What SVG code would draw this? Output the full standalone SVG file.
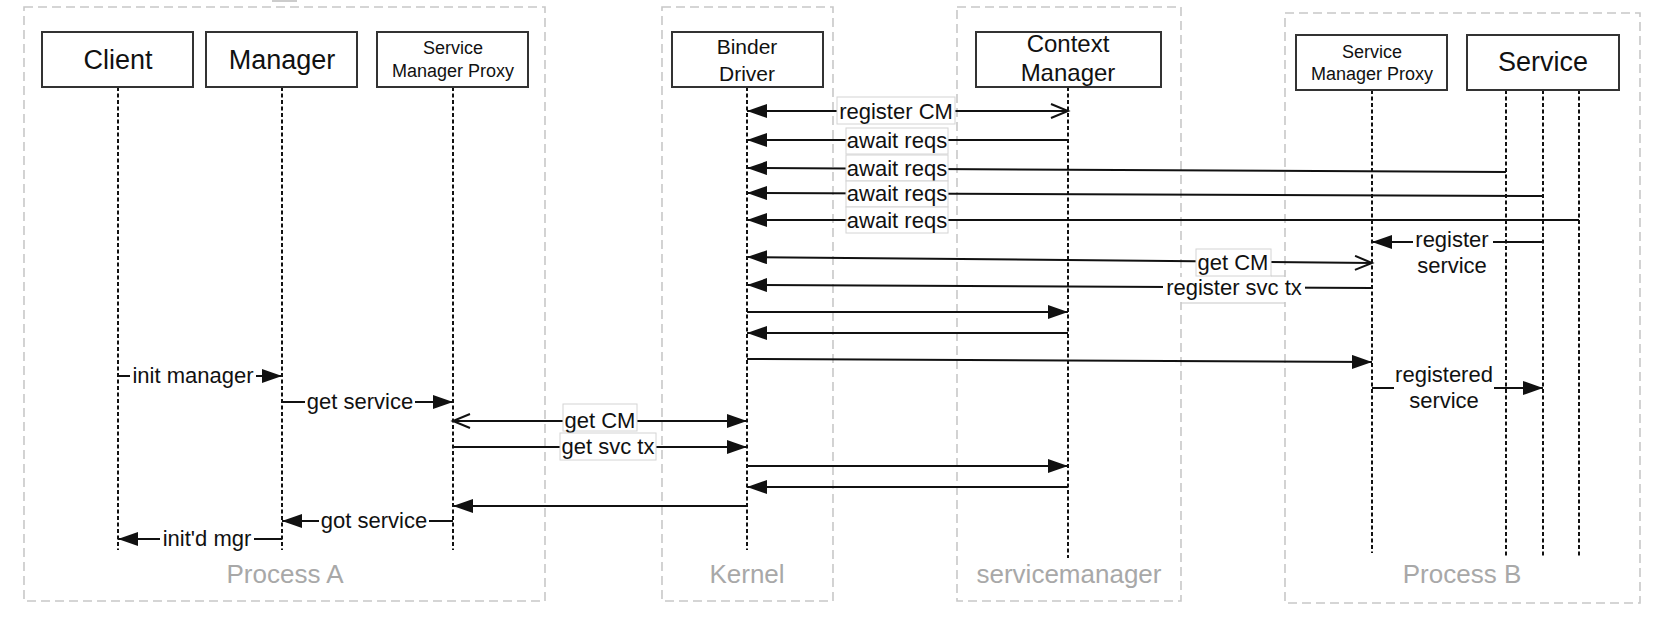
<svg xmlns="http://www.w3.org/2000/svg" width="1670" height="636" viewBox="0 0 1670 636">
<style>
.bg{fill:#ffffff}
.cont{fill:none;stroke:#c8c8c8;stroke-width:1.6;stroke-dasharray:9 5}
.clabel{font-family:"Liberation Sans",Arial,sans-serif;font-size:26px;fill:#a8a8a8;text-anchor:middle}
.box{fill:#ffffff;stroke:#333333;stroke-width:2}
.t{font-family:"Liberation Sans",Arial,sans-serif;fill:#111111;text-anchor:middle}
.life{stroke:#111111;stroke-width:2;stroke-dasharray:4 2.5;fill:none}
.msg{stroke:#111111;stroke-width:2;fill:none}
.f{marker-end:url(#filled)}
.lb{fill:#ffffff;stroke:#d4d4d4;stroke-width:1}
.lbn{fill:#ffffff}
.lt{font-family:"Liberation Sans",Arial,sans-serif;font-size:22px;fill:#111111;text-anchor:middle}
</style>
<defs>
<marker id="filled" markerUnits="userSpaceOnUse" markerWidth="22" markerHeight="16" refX="20" refY="7" orient="auto-start-reverse">
<path d="M0,0 L20,7 L0,14 z" fill="#111111"/>
</marker>
<marker id="open" markerUnits="userSpaceOnUse" markerWidth="22" markerHeight="18" refX="18" refY="8" orient="auto-start-reverse">
<path d="M1,1 L18,8 L1,15" fill="none" stroke="#111111" stroke-width="2"/>
</marker>
</defs>
<rect class="bg" x="0" y="0" width="1670" height="636"/>
<rect x="272" y="0" width="25" height="2" fill="#cccccc"/>

<g id="containers">
<g id="process-a"><rect class="cont" x="24" y="7" width="521" height="594"/><text class="clabel" x="285" y="583">Process A</text></g>
<g id="kernel"><rect class="cont" x="662" y="7" width="171" height="594"/><text class="clabel" x="747" y="583">Kernel</text></g>
<g id="servicemanager"><rect class="cont" x="957" y="7" width="224" height="594"/><text class="clabel" x="1069" y="583">servicemanager</text></g>
<g id="process-b"><rect class="cont" x="1285" y="13" width="355" height="590"/><text class="clabel" x="1462" y="583">Process B</text></g>
</g>

<g id="client"><line class="life" x1="118" y1="87" x2="118" y2="550"/><rect class="box" x="42" y="32" width="151" height="55"/><text class="t" x="118" y="69" font-size="27">Client</text></g>
<g id="manager"><line class="life" x1="282" y1="87" x2="282" y2="550"/><rect class="box" x="206" y="32" width="151" height="55"/><text class="t" x="282" y="69" font-size="27">Manager</text></g>
<g id="smp-a"><line class="life" x1="453" y1="87" x2="453" y2="550"/><rect class="box" x="377" y="32" width="151" height="55"/><text class="t" x="453" y="54" font-size="18">Service</text><text class="t" x="453" y="77" font-size="18">Manager Proxy</text></g>
<g id="binder-driver"><line class="life" x1="747" y1="87" x2="747" y2="550"/><rect class="box" x="672" y="32" width="151" height="55"/><text class="t" x="747" y="54" font-size="21">Binder</text><text class="t" x="747" y="81" font-size="21">Driver</text></g>
<g id="context-manager"><line class="life" x1="1068" y1="87" x2="1068" y2="558"/><rect class="box" x="976" y="32" width="185" height="55"/><text class="t" x="1068" y="52" font-size="24">Context</text><text class="t" x="1068" y="81" font-size="24">Manager</text></g>
<g id="smp-b"><line class="life" x1="1372" y1="90" x2="1372" y2="553"/><rect class="box" x="1296" y="35" width="151" height="55"/><text class="t" x="1372" y="58" font-size="18">Service</text><text class="t" x="1372" y="80" font-size="18">Manager Proxy</text></g>
<g id="service"><line class="life" x1="1506" y1="90" x2="1506" y2="558"/><line class="life" x1="1543" y1="90" x2="1543" y2="558"/><line class="life" x1="1579" y1="90" x2="1579" y2="558"/><rect class="box" x="1467" y="35" width="152" height="55"/><text class="t" x="1543" y="71" font-size="27">Service</text></g>

<g id="connectors">
<line class="msg" x1="1068" y1="111" x2="747" y2="111" marker-start="url(#open)" marker-end="url(#filled)"/>
<line class="msg f" x1="1068" y1="140" x2="747" y2="140"/>
<line class="msg f" x1="1506" y1="172" x2="747" y2="168"/>
<line class="msg f" x1="1543" y1="196" x2="747" y2="193"/>
<line class="msg f" x1="1579" y1="220" x2="747" y2="220"/>
<line class="msg f" x1="1543" y1="242" x2="1372" y2="242"/>
<line class="msg" x1="1372" y1="263" x2="747" y2="257" marker-start="url(#open)" marker-end="url(#filled)"/>
<line class="msg f" x1="1372" y1="288" x2="747" y2="285"/>
<line class="msg f" x1="747" y1="312" x2="1068" y2="312"/>
<line class="msg f" x1="1068" y1="333" x2="747" y2="333"/>
<line class="msg f" x1="747" y1="359" x2="1372" y2="362"/>
<line class="msg f" x1="1372" y1="388" x2="1543" y2="388"/>
<line class="msg f" x1="118" y1="376" x2="282" y2="376"/>
<line class="msg f" x1="282" y1="402" x2="453" y2="402"/>
<line class="msg" x1="453" y1="421" x2="747" y2="421" marker-start="url(#open)" marker-end="url(#filled)"/>
<line class="msg f" x1="453" y1="447" x2="747" y2="447"/>
<line class="msg f" x1="747" y1="466" x2="1068" y2="466"/>
<line class="msg f" x1="1068" y1="487" x2="747" y2="487"/>
<line class="msg f" x1="747" y1="506" x2="453" y2="506"/>
<line class="msg f" x1="453" y1="521" x2="282" y2="521"/>
<line class="msg f" x1="282" y1="539" x2="118" y2="539"/>

<g id="labels">
<rect class="lb" x="837" y="97" width="118" height="27"/><text class="lt" x="896" y="119">register CM</text>
<rect class="lb" x="846" y="128" width="102" height="26"/><text class="lt" x="897" y="148">await reqs</text>
<rect class="lb" x="846" y="155" width="102" height="26"/><text class="lt" x="897" y="176">await reqs</text>
<rect class="lb" x="846" y="181" width="102" height="26"/><text class="lt" x="897" y="201">await reqs</text>
<rect class="lb" x="846" y="207" width="102" height="26"/><text class="lt" x="897" y="228">await reqs</text>
<rect class="lbn" x="1413" y="230" width="80" height="50"/><text class="lt" x="1452" y="247">register</text><text class="lt" x="1452" y="273">service</text>
<rect class="lb" x="1196" y="249" width="75" height="27"/><text class="lt" x="1233" y="270">get CM</text>
<line x1="1271" y1="276" x2="1285" y2="276" stroke="#c8c8c8" stroke-width="1"/>
<rect class="lbn" x="1163" y="277" width="142" height="25"/><text class="lt" x="1234" y="295">register svc tx</text>
<line x1="1181" y1="303" x2="1285" y2="303" stroke="#c8c8c8" stroke-width="1.2"/>
<rect class="lbn" x="1394" y="368" width="100" height="48"/><text class="lt" x="1444" y="382">registered</text><text class="lt" x="1444" y="408">service</text>
<rect class="lbn" x="130" y="364" width="126" height="24"/><text class="lt" x="193" y="383">init manager</text>
<rect class="lbn" x="305" y="390" width="110" height="24"/><text class="lt" x="360" y="409">get service</text>
<rect class="lbn" x="319" y="509" width="110" height="24"/><text class="lt" x="374" y="528">got service</text>
<rect class="lbn" x="160" y="527" width="94" height="24"/><text class="lt" x="207" y="546">init'd mgr</text>
<rect class="lb" x="563" y="404" width="74" height="27"/><text class="lt" x="600" y="428">get CM</text>
<rect class="lb" x="560" y="433" width="96" height="27"/><text class="lt" x="608" y="454">get svc tx</text>
</g>
</g>
</svg>
